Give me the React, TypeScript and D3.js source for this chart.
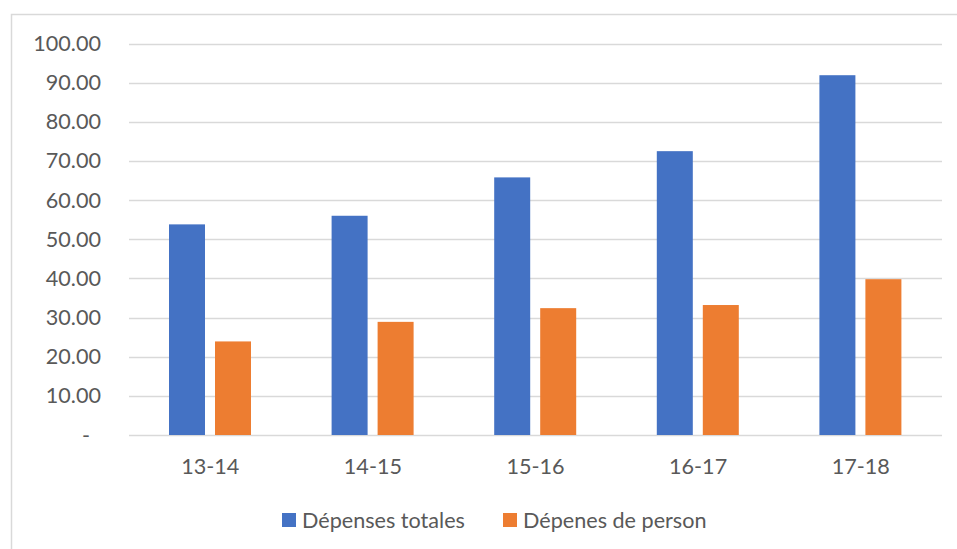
import React from "react";
import * as d3 from "d3";

const categories = ["13-14", "14-15", "15-16", "16-17", "17-18"];
const seriesNames = ["Dépenses totales", "Dépenes de person"];
const totales = [53.8, 56.0, 65.8, 72.5, 91.9];
const personnel = [23.9, 28.9, 32.4, 33.2, 39.8];
const tickValues = [0, 10, 20, 30, 40, 50, 60, 70, 80, 90, 100];
const tickLabels = ["-", "10.00", "20.00", "30.00", "40.00", "50.00", "60.00", "70.00", "80.00", "90.00", "100.00"];
const colors = ["#4472C4", "#ED7D31"];

const W = 957;
const H = 549;
const FONT = "Lato, 'Open Sans', sans-serif";
const TEXT = "#595959";
const FS = 21.6;

export default function App() {
  const y = d3.scaleLinear().domain([0, 100]).range([435, 43.5]);
  const x0 = d3.scaleBand<string>().domain(categories).range([129, 942]);
  const x1 = d3
    .scaleBand<string>()
    .domain(seriesNames)
    .range([40, 122])
    .paddingInner(0.2174);
  const seriesValues = [totales, personnel];

  return (
    <svg
      width={W}
      height={H}
      style={{ position: "absolute", left: 0, top: 0, background: "#fff" }}
      fontFamily={FONT}
    >
      <rect x={11.5} y={14.5} width={960} height={560} fill="#fff" stroke="#d9d9d9" strokeWidth={1.5} />
      {tickValues.map((v, i) => (
        <g key={v}>
          <line
            x1={129}
            x2={942}
            y1={Math.round(y(v)) + 0.5}
            y2={Math.round(y(v)) + 0.5}
            stroke="#d9d9d9"
            strokeWidth={1.5}
          />
          <text
            x={i === 0 ? 90 : 101}
            y={y(v) + 7.5}
            textAnchor="end"
            fontSize={FS}
            fill={TEXT}
          >
            {tickLabels[i]}
          </text>
        </g>
      ))}
      {categories.map((c, ci) => (
        <g key={c} transform={`translate(${x0(c)},0)`}>
          {seriesNames.map((s, si) => {
            const v = seriesValues[si][ci];
            return (
              <rect
                key={s}
                x={x1(s)}
                y={y(v)}
                width={x1.bandwidth()}
                height={y(0) - y(v)}
                fill={colors[si]}
              />
            );
          })}
          <text
            x={x0.bandwidth() / 2}
            y={473.5}
            textAnchor="middle"
            fontSize={FS}
            fill={TEXT}
          >
            {c}
          </text>
        </g>
      ))}
      {seriesNames.map((s, si) => {
        const lx = si === 0 ? 282 : 503;
        return (
          <g key={s}>
            <rect x={lx} y={513} width={14} height={14} fill={colors[si]} />
            <text x={lx + 20} y={527.5} fontSize={FS} fill={TEXT}>
              {s}
            </text>
          </g>
        );
      })}
    </svg>
  );
}
